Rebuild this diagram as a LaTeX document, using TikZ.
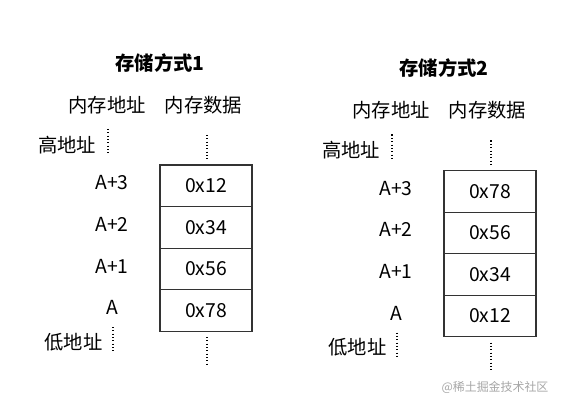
\documentclass[tikz,border=0pt]{standalone}
\usepackage{fontspec}
\setmainfont{Noto Sans CJK SC}
\begin{document}
\begin{tikzpicture}[
    x=0.02cm, y=-0.02cm,
    txt/.style={inner sep=0pt, font=\fontsize{11}{13}\selectfont},
    title/.style={txt, font=\fontsize{11}{13}\selectfont\bfseries},
    cell/.style={txt, draw=black!80, line width=.6pt, outer sep=0pt,
      minimum width=1.84cm, minimum height=0.832cm},
    gap/.style={line width=.7pt, dash pattern=on .6pt off 1.3pt},
  ]
  \useasboundingbox (0,0) rectangle (561,405);
  % the same word stored two ways; each scope sits on the box's top-left corner
  \foreach \k/\bx/\by/\vals in {1/160/165/{12,34,56,78},2/444/170.5/{78,56,34,12}} {
    \begin{scope}[shift={(\bx,\by)}]
      \node[title] (t\k) at (0,-102) {存储方式\k};
      \node[txt] (ha\k) at (-53,-60) {内存地址};
      \node[txt] (hd\k) at (43.5,-60) {内存数据};
      \node[txt] (hi\k) at (-93,-20) {高地址};
      \node[txt] (lo\k) at (-86.5,177) {低地址};
      \foreach \v [count=\i] in \vals
        \node[cell] (c\k\i) at (46,41.6*\i-20.8) {0x\v};
      \foreach \a [count=\i] in {A+3,A+2,A+1,A}
        \node[txt] (a\k\i) at (-48,41.6*\i-23.8) {\a};
      % the dots that say the memory goes on
      \coordinate (hia\k) at (-52,-36);  \coordinate (hib\k) at (-52,-10);
      \coordinate (loa\k) at (-47,162);  \coordinate (lob\k) at (-47,187);
      \coordinate (dta\k) at (47,-30);   \coordinate (dtb\k) at (47,-5);
      \coordinate (dba\k) at (47,172);   \coordinate (dbb\k) at (47,199);
      \draw[gap] (hia\k) -- (hib\k);
      \draw[gap] (loa\k) -- (lob\k);
      \draw[gap] (dta\k) -- (dtb\k);
      \draw[gap] (dba\k) -- (dbb\k);
    \end{scope}
  }
  \node[inner sep=0pt, text=black!35, font=\fontsize{6.8}{8}\selectfont]
    (mark) at (495,387) {@稀土掘金技术社区};
\end{tikzpicture}
\end{document}
